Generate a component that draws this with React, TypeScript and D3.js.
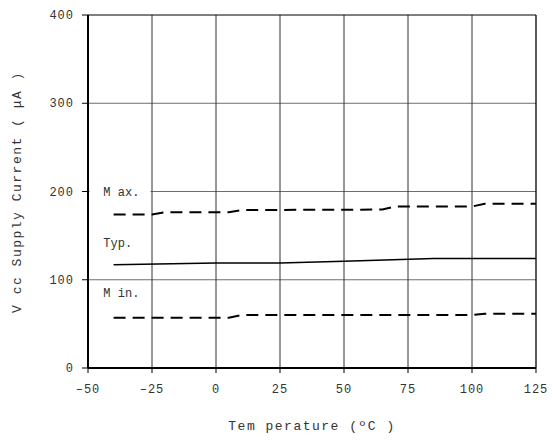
import React from "react";
import * as d3 from "d3";

const xTicks = [-50, -25, 0, 25, 50, 75, 100, 125];
const yTicks = [0, 100, 200, 300, 400];

const maxTemps = [-40, -25, -20, 5, 10, 65, 70, 100, 105, 125];
const maxVals = [174, 174, 176.5, 176.5, 179, 179.5, 183, 183, 186, 186];
const typTemps = [-40, 0, 25, 50, 85, 125];
const typVals = [117, 119, 119, 121, 124, 124];
const minTemps = [-40, 5, 10, 100, 105, 125];
const minVals = [57, 57, 60, 60, 61.5, 61.5];

const seriesLabels = [
  { text: "M ax.", t: -44, v: 195, box: true },
  { text: "Typ.", t: -44, v: 137, box: false },
  { text: "M in.", t: -44, v: 80, box: false },
];

const W = 553, H = 441;
const L = 88, R = 536, T = 15, B = 368;
const FONT = "'Liberation Mono', 'DejaVu Sans Mono', monospace";

export default function App() {
  const x = d3.scaleLinear().domain([-50, 125]).range([L, R]);
  const y = d3.scaleLinear().domain([0, 400]).range([B, T]);
  const line = d3.line<[number, number]>().x(d => x(d[0])).y(d => y(d[1]));
  const zip = (a: number[], b: number[]) => a.map((t, i) => [t, b[i]] as [number, number]);

  return (
    <svg width={W} height={H} style={{ position: "absolute", left: 0, top: 0, background: "#fff" }}>
      <rect x={0} y={0} width={W} height={H} fill="#fff" />
      {yTicks.filter(v => v > 0 && v < 400).map(v => (
        <line key={"gy" + v} x1={L} x2={R} y1={y(v)} y2={y(v)} stroke="#6e6e6e" strokeWidth={1} />
      ))}
      {xTicks.filter(t => t > -50 && t < 125).map(t => (
        <line key={"gx" + t} x1={x(t)} x2={x(t)} y1={T} y2={B} stroke="#333" strokeWidth={1} />
      ))}
      {seriesLabels.filter(s => s.box).map(s => (
        <rect key={"b" + s.text} x={L + 1.5} y={y(s.v) - 11} width={x(-25) - L - 3} height={14} fill="#fff" />
      ))}
      <line x1={L} x2={R} y1={T} y2={T} stroke="#000" strokeWidth={1} />
      <line x1={R} x2={R} y1={T} y2={B} stroke="#000" strokeWidth={1.3} />
      <line x1={L} x2={L} y1={T} y2={B} stroke="#000" strokeWidth={2} />
      <line x1={L} x2={R} y1={B} y2={B} stroke="#000" strokeWidth={2} />
      {yTicks.map(v => (
        <g key={"ty" + v}>
          <line x1={L - 6} x2={L} y1={y(v)} y2={y(v)} stroke="#000" strokeWidth={1} />
          <text x={74} y={y(v) + 4} textAnchor="end" fontFamily={FONT} fontSize={12} letterSpacing={1} fill="#333">{v}</text>
        </g>
      ))}
      {xTicks.map(t => (
        <g key={"tx" + t}>
          <line x1={x(t)} x2={x(t)} y1={B} y2={B + 5} stroke="#000" strokeWidth={1} />
          <text x={x(t)} y={393} textAnchor="middle" fontFamily={FONT} fontSize={12} letterSpacing={1} fill="#333">{t < 0 ? "\u2013" + Math.abs(t) : t}</text>
        </g>
      ))}
      <path d={line(zip(maxTemps, maxVals)) || ""} fill="none" stroke="#000" strokeWidth={2} strokeDasharray="12,7" />
      <path d={line(zip(typTemps, typVals)) || ""} fill="none" stroke="#000" strokeWidth={1.5} />
      <path d={line(zip(minTemps, minVals)) || ""} fill="none" stroke="#000" strokeWidth={2} strokeDasharray="12,7" />
      {seriesLabels.map(s => (
        <text key={s.text} x={x(s.t)} y={y(s.v)} fontFamily={FONT} fontSize={12} fill="#333">{s.text}</text>
      ))}
      <text x={312} y={430} textAnchor="middle" fontFamily={FONT} fontSize={13} letterSpacing={1.5} fill="#333">Tem perature (ºC )</text>
      <text transform="translate(21,192) rotate(-90)" textAnchor="middle" fontFamily={FONT} fontSize={13} letterSpacing={1.5} fill="#333">V cc Supply Current ( μA )</text>
    </svg>
  );
}
